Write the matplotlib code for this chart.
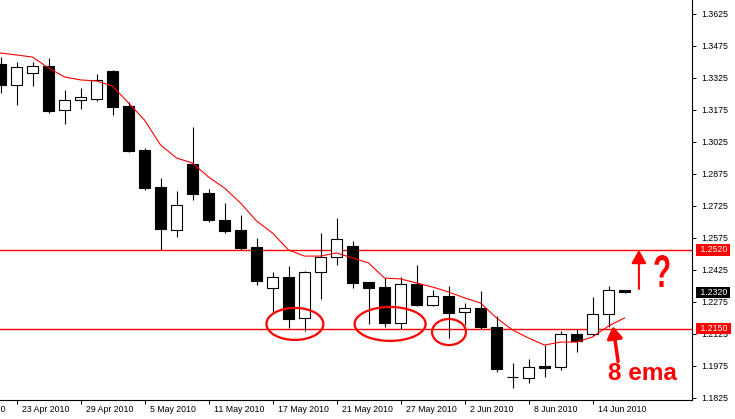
import numpy as np
import pandas as pd
import matplotlib
matplotlib.use("Agg")
import matplotlib.pyplot as plt
import matplotlib.transforms as mtransforms
from matplotlib.patches import Ellipse, PathPatch
from matplotlib.textpath import TextPath
from matplotlib.font_manager import FontProperties

# daily EURUSD-style candles, 22 Apr 2010 .. 16 Jun 2010 (business days)
dates = pd.bdate_range("2010-04-22", "2010-06-16")

opens = [1.3391, 1.3292, 1.3348, 1.3381, 1.3175, 1.3222, 1.3227, 1.3358, 1.3194, 1.2987,
         1.2814, 1.2612, 1.2922, 1.2786, 1.2659, 1.2612, 1.2533, 1.2340, 1.2392, 1.2200,
         1.2415, 1.2486, 1.2537, 1.2369, 1.2345, 1.2176, 1.2359, 1.2261, 1.2303, 1.2228,
         1.2247, 1.2158, 1.1922, 1.1918, 1.1975, 1.1970, 1.2125, 1.2125, 1.2219, 1.2333]
highs = [1.3423, 1.3400, 1.3400, 1.3419, 1.3269, 1.3278, 1.3344, 1.3362, 1.3212, 1.2997,
         1.2856, 1.2795, 1.3095, 1.2805, 1.2739, 1.2683, 1.2575, 1.2415, 1.2444, 1.2420,
         1.2598, 1.2669, 1.2561, 1.2369, 1.2387, 1.2392, 1.2448, 1.2331, 1.2350, 1.2270,
         1.2326, 1.2209, 1.1989, 1.2008, 1.2073, 1.2139, 1.2148, 1.2298, 1.2350, 1.2333]
lows = [1.3255, 1.3198, 1.3287, 1.3161, 1.3109, 1.3180, 1.3217, 1.3151, 1.2978, 1.2800,
        1.2519, 1.2580, 1.2753, 1.2650, 1.2598, 1.2519, 1.2354, 1.2228, 1.2153, 1.2139,
        1.2289, 1.2448, 1.2340, 1.2172, 1.2158, 1.2148, 1.2258, 1.2258, 1.2106, 1.2167,
        1.2148, 1.1947, 1.1872, 1.1895, 1.1923, 1.1956, 1.2040, 1.2115, 1.2158, 1.2318]
closes = [1.3292, 1.3377, 1.3381, 1.3170, 1.3222, 1.3236, 1.3316, 1.3189, 1.2983, 1.2809,
          1.2617, 1.2730, 1.2781, 1.2659, 1.2608, 1.2528, 1.2373, 1.2392, 1.2195, 1.2415,
          1.2486, 1.2570, 1.2364, 1.2340, 1.2176, 1.2359, 1.2261, 1.2303, 1.2223, 1.2247,
          1.2158, 1.1961, 1.1924, 1.1970, 1.1966, 1.2125, 1.2092, 1.2219, 1.2331, 1.2320]
ema8 = [1.3442, 1.3433, 1.3423, 1.3372, 1.3330, 1.3316, 1.3311, 1.3287, 1.3208, 1.3128,
        1.3011, 1.2950, 1.2926, 1.2861, 1.2809, 1.2739, 1.2655, 1.2598, 1.2519, 1.2490,
        1.2490, 1.2505, 1.2481, 1.2458, 1.2387, 1.2383, 1.2364, 1.2345, 1.2322, 1.2294,
        1.2270, 1.2200, 1.2144, 1.2106, 1.2073, 1.2087, 1.2087, 1.2111, 1.2162, 1.2200]

resistance = 1.2520
support = 1.2150
last_price = 1.2320

y_ticks = [1.3625, 1.3475, 1.3325, 1.3175, 1.3025, 1.2875, 1.2725,
           1.2575, 1.2425, 1.2275, 1.2125, 1.1975, 1.1825]
tick_idx = [-3, 1, 5, 9, 13, 17, 21, 25, 29, 33, 37]
tick_labels = ["19 Apr 2010"] + [f"{dates[i].day} {dates[i]:%b %Y}" for i in tick_idx[1:]]

plt.rcParams["font.family"] = ["Liberation Sans", "DejaVu Sans"]

fig = plt.figure(figsize=(7.35, 4.19), dpi=100)
ax = fig.add_axes([0, 19 / 419, 692 / 735, 400 / 419])

x = np.arange(len(dates))
o = np.array(opens)
c = np.array(closes)
up = c >= o

# candles
ax.vlines(x, lows, highs, color="black", lw=0.8, zorder=2)
ax.bar(x, np.abs(c - o), bottom=np.minimum(o, c), width=0.69,
       color=np.where(up, "white", "black"), edgecolor="black", lw=0.8, zorder=3)

# 8 ema + levels
ax.plot(x, ema8, color="red", lw=0.8, zorder=4)
ax.axhline(resistance, color="red", lw=1.0, zorder=1)
ax.axhline(support, color="red", lw=1.0, zorder=1)

ax.set_xlim(-0.5 / 16, 691.5 / 16)
ax.set_ylim(1.18154, 1.36906)

for s in ["top", "left"]:
    ax.spines[s].set_visible(False)
for s in ["right", "bottom"]:
    ax.spines[s].set_linewidth(0.8)

ax.yaxis.tick_right()
ax.set_yticks(y_ticks)
ax.set_yticklabels([f"{v:.4f}" for v in y_ticks])
ax.tick_params(axis="y", direction="out", length=3, width=0.7, pad=3.5, labelsize=6.3)

ax.set_xticks(tick_idx[1:])
ax.set_xticklabels([])
ax.tick_params(axis="x", direction="out", length=3, width=0.7)
lbl_trans = mtransforms.offset_copy(ax.get_xaxis_transform(), fig=fig, x=5, y=-9, units="dots")
for i, t in zip(tick_idx, tick_labels):
    ax.text(i, 0, t, transform=lbl_trans, ha="left", va="center", fontsize=6.3, clip_on=False)

# price boxes on the right scale
ytr = ax.get_yaxis_transform()
for val, bg in [(resistance, "red"), (last_price, "black"), (support, "red")]:
    ax.text(1.008, val, f" {val:.4f} ", transform=ytr, ha="left", va="center",
            fontsize=6.3, color="white", clip_on=False, zorder=6,
            bbox=dict(boxstyle="square,pad=0.15", fc=bg, ec="none"))

# hand drawn marks
for cx, cy, w, h in [(18.4, 1.2172, 3.56, 0.0150), (24.35, 1.2172, 4.44, 0.0159),
                     (28.03, 1.2134, 2.12, 0.0122)]:
    ax.add_patch(Ellipse((cx, cy), w, h, fill=False, ec="red", lw=1.6, zorder=5))

ax.annotate("", xy=(39.9, 1.2519), xytext=(39.9, 1.2336),
            arrowprops=dict(arrowstyle="-|>,head_length=0.8,head_width=0.45",
                            color="red", lw=1.5, shrinkA=0, shrinkB=0))
ax.annotate("", xy=(38.28, 1.2162), xytext=(38.6, 1.1996),
            arrowprops=dict(arrowstyle="-|>,head_length=0.7,head_width=0.45",
                            color="red", lw=2.5, shrinkA=0, shrinkB=0))
ax.text(40.15, 1.1940, "8 ema", color="red", fontsize=17.5, fontweight="bold",
        ha="center", va="center")

# tall narrow question mark
tp = TextPath((0, 0), "?", size=1, prop=FontProperties(family="Liberation Sans", weight="bold"))
bb = tp.get_extents()
q_tr = (mtransforms.Affine2D().translate(-bb.x0 - bb.width / 2, -bb.y0 - bb.height / 2)
        .scale(15 / bb.width, 32 / bb.height)
        + mtransforms.ScaledTranslation(41.34, 1.2420, ax.transData))
ax.add_patch(PathPatch(tp, transform=q_tr, fc="red", ec="none", zorder=6))

fig.savefig("out.png", dpi=100)
